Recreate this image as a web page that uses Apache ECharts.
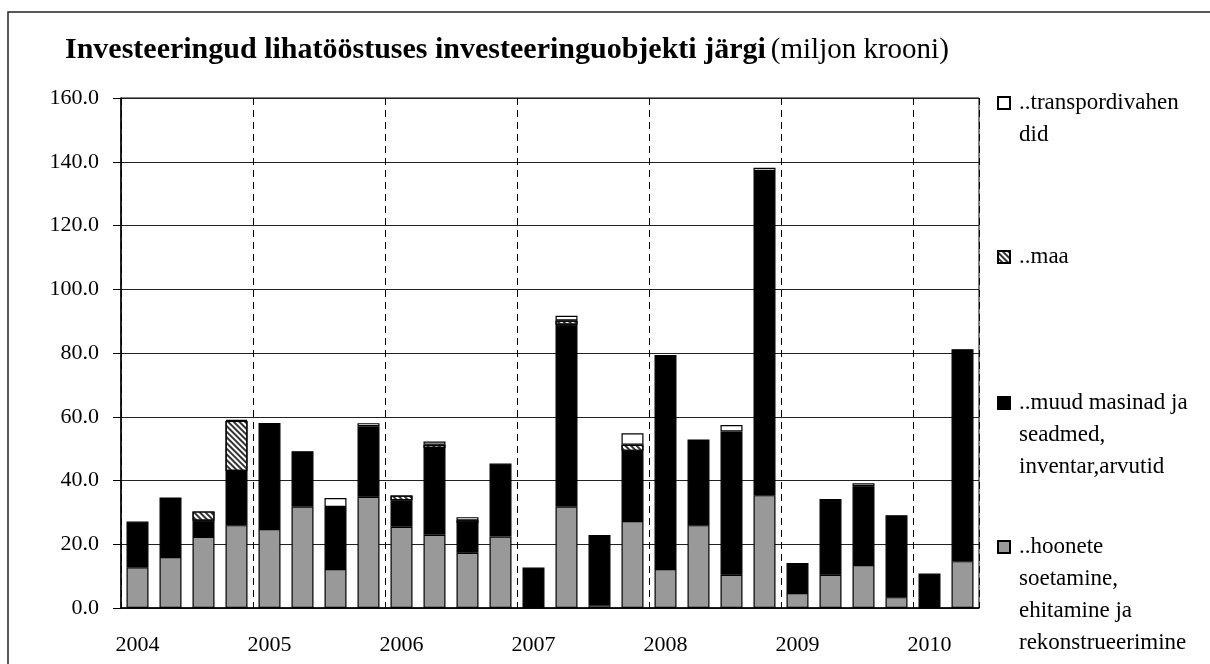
<!DOCTYPE html>
<html>
<head>
<meta charset="utf-8">
<script src="https://cdn.jsdelivr.net/npm/echarts@6/dist/echarts.min.js"></script>
<style>
  html, body { margin: 0; padding: 0; background: #fff; }
  #chart { width: 1210px; height: 664px; }
</style>
</head>
<body>
<div id="chart"></div>
<script>
// quarters 2004 I .. 2010 II
var quarters = [
  '2004 I', '2004 II', '2004 III', '2004 IV',
  '2005 I', '2005 II', '2005 III', '2005 IV',
  '2006 I', '2006 II', '2006 III', '2006 IV',
  '2007 I', '2007 II', '2007 III', '2007 IV',
  '2008 I', '2008 II', '2008 III', '2008 IV',
  '2009 I', '2009 II', '2009 III', '2009 IV',
  '2010 I', '2010 II'
];

// miljon krooni
var hoonete = [12.8, 16.0, 22.3, 26.0, 24.8, 31.8, 12.2, 34.9, 25.5, 23.0, 17.3, 22.4, 0,
  31.8, 0.9, 27.3, 12.2, 26.0, 10.4, 35.4, 4.7, 10.4, 13.5, 3.4, 0, 14.7];
var muud = [14.3, 18.7, 5.1, 17.0, 33.2, 17.4, 19.5, 22.1, 8.3, 27.2, 9.4, 22.9, 12.7,
  57.1, 22.0, 22.0, 67.2, 26.9, 45.0, 101.7, 9.4, 23.8, 24.7, 25.7, 10.8, 66.5];
var maa = [0, 0, 2.9, 15.7, 0, 0, 0, 0, 1.5, 1.0, 0.8, 0, 0,
  1.3, 0, 1.9, 0, 0, 0, 0, 0, 0, 0, 0, 0, 0];
var transport = [0, 0, 0, 0.3, 0, 0, 2.8, 1.0, 0, 1.0, 1.0, 0, 0,
  1.5, 0, 3.6, 0, 0, 2.0, 1.0, 0, 0, 0.9, 0, 0, 0];

var names = {
  transport: '..transpordivahen\ndid',
  maa: '..maa',
  muud: '..muud masinad ja\nseadmed,\ninventar,arvutid',
  hoonete: '..hoonete\nsoetamine,\nehitamine ja\nrekonstrueerimine'
};

var font = '"Liberation Serif", "Times New Roman", serif';
var lineH = 32;

// zero means nothing drawn
function clean(arr) {
  return arr.map(function (v) { return v === 0 ? '-' : v; });
}

function barSeries(name, data, color, extra) {
  var s = {
    name: name,
    type: 'bar',
    stack: 'total',
    barWidth: 22,
    data: clean(data),
    itemStyle: {
      color: color,
      borderColor: '#000',
      borderWidth: 1.2
    },
    emphasis: { disabled: true }
  };
  if (extra) {
    s.itemStyle.decal = extra;
  }
  return s;
}

// icon sits in the middle of the text block, so blank lines go above
// the text to bring it next to the first line
function legendFor(name, top) {
  var n = name.split('\n').length;
  var pad = '';
  for (var i = 1; i < n; i++) pad += ' \n';
  return {
    data: [name],
    orient: 'vertical',
    left: 997,
    top: top,
    padding: 0,
    icon: 'rect',
    itemWidth: 12,
    itemHeight: 12,
    itemGap: 0,
    selectedMode: false,
    formatter: function (v) { return pad + v; },
    textStyle: {
      fontFamily: font,
      fontSize: 23,
      color: '#000',
      lineHeight: lineH,
      padding: [0, 0, 0, 4]
    }
  };
}

var chart = echarts.init(document.getElementById('chart'), null, { renderer: 'canvas' });

var option = {
  animation: false,
  backgroundColor: '#fff',
  title: {
    left: 60,
    top: 30,
    text: '{b|Investeeringud lihatööstuses investeeringuobjekti järgi} {r|(miljon krooni)}',
    textStyle: {
      rich: {
        b: { fontFamily: font, fontSize: 30, fontWeight: 'bold', color: '#000' },
        r: { fontFamily: font, fontSize: 29, fontWeight: 'normal', color: '#000' }
      }
    }
  },
  graphic: [{
    type: 'rect',
    silent: true,
    shape: { x: 8, y: 12, width: 1260, height: 720 },
    style: { fill: null, stroke: '#222', lineWidth: 1.5 }
  }],
  legend: [
    legendFor(names.transport, 55),
    legendFor(names.maa, 241),
    legendFor(names.muud, 323),
    legendFor(names.hoonete, 435)
  ],
  grid: {
    left: 121,
    right: 231,
    top: 98,
    bottom: 56,
    show: true,
    borderColor: '#000',
    borderWidth: 1,
    outerBoundsMode: 'none'
  },
  xAxis: {
    type: 'category',
    data: quarters,
    boundaryGap: true,
    axisLine: { lineStyle: { color: '#000', width: 1.5 } },
    axisTick: { interval: 3, length: 8, lineStyle: { color: '#000' } },
    axisLabel: {
      interval: 3,
      margin: 26,
      fontFamily: font,
      fontSize: 22,
      color: '#000',
      formatter: function (v) { return v.slice(0, 4); }
    },
    splitLine: {
      show: true,
      interval: 3,
      lineStyle: { color: '#000', width: 1, type: [7, 5] }
    }
  },
  yAxis: {
    type: 'value',
    min: 0,
    max: 160,
    interval: 20,
    axisLine: { show: true, lineStyle: { color: '#000', width: 1.5 } },
    axisTick: { show: true, length: 8, lineStyle: { color: '#000' } },
    axisLabel: {
      margin: 22,
      fontFamily: font,
      fontSize: 22,
      color: '#000',
      formatter: function (v) { return v.toFixed(1); }
    },
    splitLine: { lineStyle: { color: '#222', width: 1 } }
  },
  series: [
    barSeries(names.hoonete, hoonete, '#999999'),
    barSeries(names.muud, muud, '#000000'),
    barSeries(names.maa, maa, '#ffffff', {
      symbol: 'rect',
      color: '#333',
      symbolSize: 1,
      dashArrayX: [1, 0],
      dashArrayY: [1.2, 1.3],
      rotation: Math.PI / 4
    }),
    barSeries(names.transport, transport, '#ffffff')
  ]
};

chart.setOption(option);
</script>
</body>
</html>
